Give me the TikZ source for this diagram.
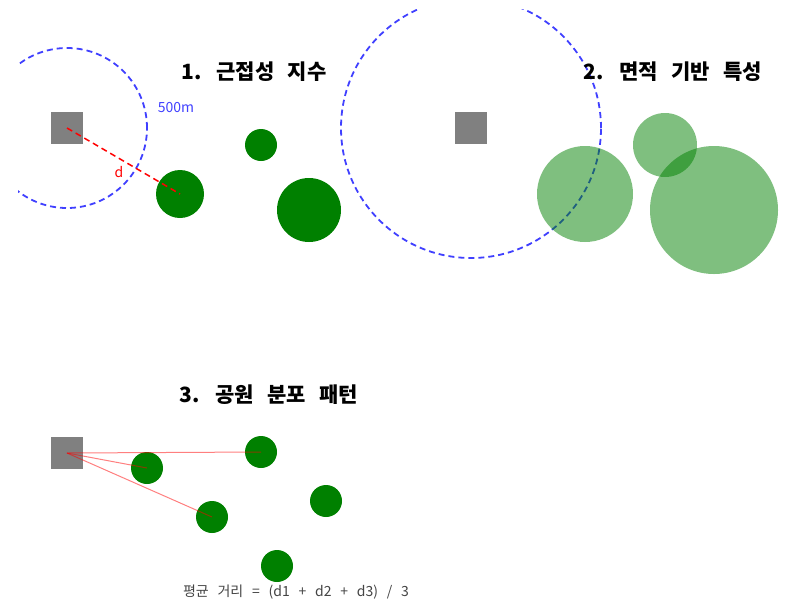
\documentclass[tikz,border=0pt]{standalone}
\usepackage{fontspec}
\setmainfont{Noto Sans CJK KR}
\newfontfamily\titlefont[WordSpace=3]{Noto Sans CJK KR}
\newfontfamily\notefont[WordSpace=2.8]{Noto Sans CJK KR}

\definecolor{parkgreen}{RGB}{0,128,0}
\definecolor{bufferblue}{RGB}{64,64,255}
\definecolor{notegray}{RGB}{68,68,68}

\tikzstyle{home}=[
    rectangle,
    minimum size=32pt,
    inner sep=0pt,
    fill=gray
]
\tikzstyle{park}=[
    circle,
    inner sep=0pt,
    fill=parkgreen
]
\tikzstyle{bigpark}=[
    circle,
    inner sep=0pt,
    fill=parkgreen,
    fill opacity=0.5
]
\tikzstyle{buffer}=[
    circle,
    inner sep=0pt,
    draw=bufferblue,
    line width=1.8pt,
    dash pattern=on 6pt off 4pt
]
\tikzstyle{title}=[font=\titlefont\bfseries\fontsize{21}{24}\selectfont, inner sep=0pt]
\tikzstyle{small}=[font=\fontsize{14}{16}\selectfont, inner sep=0pt]

\begin{document}
\begin{tikzpicture}[x=1pt,y=-1pt]
	\useasboundingbox (0,0) rectangle (805,614);
	\clip (18,9) rectangle (805,614);

	% 1. PROXIMITY
	\node (buf_1) [buffer, minimum size=160pt] at (67,128) {};
	\node (home_1) [home] at (67,128) {};
	\node (park_1a) [park, minimum size=48pt] at (180,194) {};
	\node (park_1b) [park, minimum size=32pt] at (261,145) {};
	\node (park_1c) [park, minimum size=64pt] at (309,210) {};
	\node (lbl_500) [small, text=bufferblue] at (176,108) {500m};
	\node (lbl_d) [small, text=red] at (119,172) {d};

	% 2. AREA
	\node (buf_2) [buffer, minimum size=260pt] at (471,128) {};
	\node (home_2) [home] at (471,128) {};
	\node (park_2a) [bigpark, minimum size=96pt] at (585,194) {};
	\node (park_2b) [bigpark, minimum size=64pt] at (665,145) {};
	\node (park_2c) [bigpark, minimum size=128pt] at (714,210) {};

	% 3. DISTRIBUTION
	\node (home_3) [home] at (67,453) {};
	\node (park_3a) [park, minimum size=32pt] at (147,468) {};
	\node (park_3b) [park, minimum size=32pt] at (261,452) {};
	\node (park_3c) [park, minimum size=32pt] at (212,517) {};
	\node (park_3d) [park, minimum size=32pt] at (326,501) {};
	\node (park_3e) [park, minimum size=32pt] at (277,566) {};

	\path
	% Distance to nearest park
	(home_1.center) edge[draw=red, line width=1.5pt, dash pattern=on 6pt off 4pt] (park_1a.center)

	% Distances for the average
	(home_3.center) edge[draw=red, draw opacity=0.5, line width=1pt] (park_3a.center)
	(home_3.center) edge[draw=red, draw opacity=0.5, line width=1pt] (park_3b.center)
	(home_3.center) edge[draw=red, draw opacity=0.5, line width=1pt] (park_3c.center)
	;

	% TITLES
	\node (title_1) [title] at (254,72) {1. 근접성 지수};
	\node (title_2) [title] at (673,72) {2. 면적 기반 특성};
	\node (title_3) [title] at (269,395) {3. 공원 분포 패턴};
	\node (avg) [small, font=\notefont\fontsize{14}{16}\selectfont, text=notegray] at (296,592) {평균 거리 = (d1 + d2 + d3) / 3};
\end{tikzpicture}
\end{document}
